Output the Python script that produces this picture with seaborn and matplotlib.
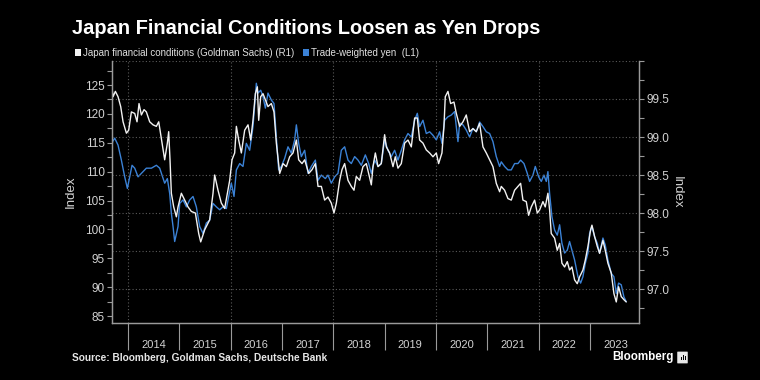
import matplotlib
matplotlib.use('Agg')
import matplotlib.pyplot as plt
from matplotlib import font_manager
from matplotlib.patches import Patch, FancyBboxPatch, Rectangle
from matplotlib.ticker import MultipleLocator, FixedLocator, FixedFormatter
import seaborn as sns

sns.set_theme(style='dark', rc={'axes.facecolor': 'black', 'figure.facecolor': 'black'})

names = {f.name for f in font_manager.fontManager.ttflist}
NARROW = 'Liberation Sans Narrow' if 'Liberation Sans Narrow' in names else 'Liberation Sans'
plt.rcParams['font.family'] = ['Liberation Sans', 'DejaVu Sans']

# ---- data (decimal years) ----
# Trade-weighted yen, left axis
yen_t = [2013.68, 2013.70, 2013.74, 2013.805, 2013.87, 2013.935, 2013.987, 2014.033, 2014.078, 2014.13,
         2014.195, 2014.26, 2014.357, 2014.455, 2014.552, 2014.617, 2014.65, 2014.714, 2014.766, 2014.812,
         2014.844, 2014.877, 2014.909, 2014.974, 2015.007, 2015.072, 2015.137, 2015.202, 2015.266, 2015.331,
         2015.396, 2015.461, 2015.526, 2015.591, 2015.656, 2015.721, 2015.786, 2015.851, 2015.916, 2015.948,
         2016.013, 2016.065, 2016.111, 2016.176, 2016.24, 2016.305, 2016.37, 2016.435, 2016.50, 2016.533,
         2016.585, 2016.63, 2016.676, 2016.727, 2016.792, 2016.844, 2016.89, 2016.935, 2016.987, 2017.052,
         2017.117, 2017.182, 2017.247, 2017.28, 2017.325, 2017.377, 2017.442, 2017.507, 2017.572, 2017.65,
         2017.702, 2017.767, 2017.845, 2017.896, 2017.961, 2018.026, 2018.091, 2018.156, 2018.221, 2018.286,
         2018.351, 2018.416, 2018.481, 2018.546, 2018.624, 2018.689, 2018.741, 2018.806, 2018.871, 2018.935,
         2019.00, 2019.065, 2019.13, 2019.195, 2019.26, 2019.325, 2019.39, 2019.455, 2019.52, 2019.585,
         2019.637, 2019.682, 2019.747, 2019.812, 2019.877, 2019.942, 2020.007, 2020.072, 2020.117, 2020.169,
         2020.234, 2020.299, 2020.364, 2020.429, 2020.462, 2020.527, 2020.591, 2020.656, 2020.721, 2020.786,
         2020.851, 2020.916, 2020.981, 2021.046, 2021.111, 2021.176, 2021.241, 2021.273, 2021.338, 2021.403,
         2021.468, 2021.533, 2021.598, 2021.65, 2021.715, 2021.78, 2021.825, 2021.89, 2021.936, 2022.001,
         2022.053, 2022.104, 2022.15, 2022.182, 2022.215, 2022.26, 2022.312, 2022.364, 2022.41, 2022.455,
         2022.507, 2022.559, 2022.604, 2022.65, 2022.702, 2022.767, 2022.819, 2022.864, 2022.91, 2022.962,
         2022.994, 2023.04, 2023.092, 2023.144, 2023.189, 2023.254, 2023.299, 2023.351, 2023.416, 2023.468,
         2023.514, 2023.559, 2023.611, 2023.663, 2023.708]
yen_idx = [114.0, 115.2, 115.8, 114.6, 112.0, 109.1, 107.1, 109.1, 111.1, 110.6,
           109.1, 109.7, 110.6, 110.6, 111.1, 110.6, 109.7, 108.0, 108.8, 106.2,
           102.8, 100.5, 97.9, 100.5, 104.5, 105.1, 103.9, 105.1, 105.7, 103.9,
           100.5, 99.3, 101.1, 101.6, 104.5, 103.9, 103.4, 103.9, 103.6, 105.1,
           108.0, 105.7, 110.3, 111.4, 110.9, 114.9, 113.7, 117.8, 125.3, 123.6,
           124.1, 123.0, 121.0, 123.6, 122.4, 121.8, 116.0, 110.3, 110.9, 112.3,
           114.3, 113.2, 115.5, 118.1, 114.9, 112.6, 113.7, 109.7, 110.9, 112.0,
           108.5, 109.4, 108.8, 109.4, 108.0, 109.1, 109.7, 113.7, 114.3, 112.0,
           111.4, 112.6, 112.0, 111.1, 112.9, 111.4, 109.7, 112.0, 110.9, 111.4,
           115.5, 113.7, 112.6, 113.7, 112.0, 113.7, 115.5, 116.6, 116.0, 118.9,
           120.1, 117.8, 118.9, 116.6, 116.9, 116.3, 115.5, 116.9, 114.9, 118.9,
           119.5, 119.8, 120.4, 115.2, 118.4, 118.1, 117.2, 116.0, 117.5, 116.9,
           118.6, 117.8, 116.9, 116.6, 115.2, 112.6, 110.9, 111.7, 110.9, 110.3,
           110.3, 111.4, 111.4, 112.0, 111.4, 109.7, 108.3, 109.4, 110.9, 109.1,
           108.3, 109.4, 108.3, 110.0, 106.2, 102.2, 99.9, 99.0, 100.8, 97.6,
           95.9, 96.4, 97.9, 96.4, 94.7, 91.8, 90.7, 91.8, 94.1, 95.9,
           99.3, 100.5, 98.7, 97.6, 95.9, 98.5, 97.3, 94.7, 92.4, 91.8,
           88.9, 90.7, 90.4, 88.3, 87.5]

# Japan financial conditions (Goldman Sachs), right axis
fci_t = [2013.68, 2013.708, 2013.753, 2013.805, 2013.857, 2013.903, 2013.968, 2014.013, 2014.065, 2014.13,
         2014.175, 2014.214, 2014.26, 2014.312, 2014.357, 2014.422, 2014.487, 2014.552, 2014.598, 2014.65,
         2014.714, 2014.766, 2014.792, 2014.818, 2014.844, 2014.89, 2014.942, 2014.974, 2015.039, 2015.104,
         2015.169, 2015.234, 2015.312, 2015.377, 2015.416, 2015.494, 2015.591, 2015.656, 2015.688, 2015.753,
         2015.818, 2015.883, 2015.935, 2015.981, 2016.026, 2016.078, 2016.111, 2016.156, 2016.208, 2016.273,
         2016.338, 2016.39, 2016.435, 2016.481, 2016.52, 2016.546, 2016.585, 2016.63, 2016.676, 2016.727,
         2016.792, 2016.844, 2016.89, 2016.955, 2017.02, 2017.085, 2017.15, 2017.215, 2017.28, 2017.325,
         2017.39, 2017.442, 2017.52, 2017.585, 2017.65, 2017.702, 2017.767, 2017.831, 2017.896, 2017.961,
         2018.013, 2018.059, 2018.124, 2018.169, 2018.221, 2018.286, 2018.351, 2018.403, 2018.448, 2018.513,
         2018.578, 2018.643, 2018.689, 2018.741, 2018.773, 2018.819, 2018.871, 2018.935, 2019.00, 2019.033,
         2019.098, 2019.163, 2019.208, 2019.26, 2019.325, 2019.39, 2019.455, 2019.52, 2019.585, 2019.637,
         2019.682, 2019.747, 2019.812, 2019.877, 2019.942, 2020.007, 2020.052, 2020.117, 2020.156, 2020.182,
         2020.234, 2020.286, 2020.351, 2020.397, 2020.462, 2020.527, 2020.591, 2020.656, 2020.721, 2020.786,
         2020.851, 2020.916, 2020.981, 2021.046, 2021.111, 2021.176, 2021.241, 2021.273, 2021.338, 2021.403,
         2021.468, 2021.533, 2021.598, 2021.65, 2021.695, 2021.76, 2021.806, 2021.858, 2021.923, 2021.975,
         2022.02, 2022.085, 2022.13, 2022.182, 2022.215, 2022.247, 2022.312, 2022.364, 2022.41, 2022.455,
         2022.507, 2022.559, 2022.604, 2022.65, 2022.702, 2022.754, 2022.799, 2022.864, 2022.91, 2022.962,
         2023.014, 2023.04, 2023.092, 2023.144, 2023.189, 2023.254, 2023.299, 2023.351, 2023.416, 2023.468,
         2023.514, 2023.559, 2023.611, 2023.663, 2023.708]
fci_idx = [99.68, 99.53, 99.60, 99.53, 99.40, 99.20, 99.05, 99.09, 99.33, 99.31,
           99.20, 99.44, 99.29, 99.36, 99.33, 99.20, 99.16, 99.14, 99.20, 98.98,
           98.70, 98.92, 99.07, 98.70, 98.26, 98.08, 97.95, 98.08, 98.26, 98.17,
           98.08, 98.02, 98.00, 97.73, 97.62, 97.78, 97.91, 98.26, 98.50, 98.30,
           98.13, 98.06, 98.26, 98.43, 98.70, 98.79, 99.14, 98.96, 98.79, 99.09,
           99.16, 98.96, 99.22, 99.57, 99.66, 99.22, 99.53, 99.57, 99.49, 99.40,
           99.44, 99.33, 98.92, 98.52, 98.65, 98.61, 98.74, 98.79, 98.96, 98.70,
           98.65, 98.70, 98.52, 98.57, 98.65, 98.35, 98.35, 98.17, 98.21, 98.13,
           98.00, 98.13, 98.43, 98.57, 98.65, 98.43, 98.35, 98.30, 98.48, 98.43,
           98.61, 98.65, 98.52, 98.37, 98.61, 98.79, 98.61, 98.65, 99.03, 98.87,
           98.79, 98.61, 98.74, 98.59, 98.65, 98.92, 98.96, 98.87, 99.25, 99.25,
           98.96, 98.92, 98.83, 98.79, 98.74, 98.79, 98.65, 98.79, 99.14, 99.53,
           99.60, 99.44, 99.46, 99.31, 99.14, 99.20, 99.29, 99.07, 99.11, 99.07,
           99.18, 98.87, 98.79, 98.70, 98.61, 98.39, 98.28, 98.35, 98.30, 98.19,
           98.17, 98.30, 98.35, 98.39, 98.17, 98.15, 97.97, 98.08, 98.17, 98.00,
           98.04, 98.15, 98.08, 98.26, 98.04, 97.73, 97.67, 97.51, 97.60, 97.34,
           97.29, 97.36, 97.25, 97.29, 97.12, 97.07, 97.16, 97.25, 97.38, 97.56,
           97.78, 97.84, 97.69, 97.56, 97.47, 97.64, 97.51, 97.34, 97.21, 96.94,
           96.83, 97.03, 96.90, 96.86, 96.83]

years = list(range(2014, 2024))
left_ticks = [85, 90, 95, 100, 105, 110, 115, 120, 125]
right_ticks = [97.0, 97.5, 98.0, 98.5, 99.0, 99.5, 100.0]

BLUE = '#3b82d6'
WHITE = '#f2f2f2'
GRID = '#5a5a5a'
SPINE = '#9a9a9a'
TXT = '#d2d2d2'

fig = plt.figure(figsize=(7.6, 3.8), dpi=100, facecolor='black')
ax = fig.add_axes([0.147, 0.150, 0.694, 0.6895])
ax2 = ax.twinx()

sns.lineplot(x=yen_t, y=yen_idx, ax=ax, color=BLUE, linewidth=1.0)
sns.lineplot(x=fci_t, y=fci_idx, ax=ax2, color=WHITE, linewidth=1.0)

ax.set_xlim(2013.682, 2023.96)
ax.set_ylim(83.79, 129.16)
ax2.set_ylim(96.553, 100.0)

# x axis: long ticks at year boundaries, labels centred in each year
ax.xaxis.set_major_locator(FixedLocator(years))
ax.xaxis.set_major_formatter(FixedFormatter([''] * len(years)))
ax.xaxis.set_minor_locator(FixedLocator([y + 0.5 for y in years]))
ax.xaxis.set_minor_formatter(FixedFormatter([str(y) for y in years]))
ax.tick_params(axis='x', which='major', length=19.5, width=0.8, color=SPINE, bottom=True)
ax.tick_params(axis='x', which='minor', length=0, pad=12, labelsize=8, labelcolor=TXT, bottom=True)
for yr in years[::2]:
    ax.axvline(yr, color=GRID, ls=(0, (1, 2)), lw=0.8, zorder=0)

ax.set_yticks(left_ticks)
ax.yaxis.set_minor_locator(MultipleLocator(2.5))
ax.tick_params(axis='y', which='both', length=3.5, width=0.8, color=SPINE, left=True,
               labelsize=8.5, labelcolor=TXT, pad=1.5)

ax2.set_yticks(right_ticks)
ax2.set_yticklabels([f'{v:.1f}' for v in right_ticks[:-1]] + [''])
ax2.yaxis.set_minor_locator(MultipleLocator(0.25))
ax2.tick_params(axis='y', which='both', length=3.5, width=0.8, color=SPINE, right=True,
                labelsize=8.5, labelcolor=TXT, pad=1.5)
ax2.grid(True, axis='y', which='major', color=GRID, ls=(0, (1, 2)), lw=0.8)

for a in (ax, ax2):
    a.spines['top'].set_visible(False)
    for s in ('left', 'right', 'bottom'):
        a.spines[s].set_color(SPINE)
        a.spines[s].set_linewidth(0.9)
    a.set_xlabel('')

ax.set_ylabel('Index', color=TXT, fontsize=9.5)
ax.yaxis.set_label_coords(-0.066, 0.5)
ax2.set_ylabel('Index', color=TXT, fontsize=9.5, rotation=270)
ax2.yaxis.set_label_coords(1.083, 0.5)

fig.text(72 / 760, 1 - 28 / 380, 'Japan Financial Conditions Loosen as Yen Drops',
         fontsize=14.4, fontweight='bold', color='white', va='center', family=[NARROW, 'DejaVu Sans'])

handles = [Patch(facecolor=WHITE, edgecolor='none'), Patch(facecolor=BLUE, edgecolor='none')]
fig.legend(handles, ['Japan financial conditions (Goldman Sachs) (R1)', 'Trade-weighted yen  (L1)'],
           loc='center left', bbox_to_anchor=(71 / 760, 1 - 52.5 / 380), ncol=2, frameon=False,
           handlelength=0.6, handleheight=0.75, handletextpad=0.25, columnspacing=0.9,
           prop={'family': [NARROW, 'DejaVu Sans'], 'size': 7.0}, labelcolor='#e0e0e0', borderaxespad=0)

fig.text(72 / 760, 1 - 358 / 380, 'Source: Bloomberg, Goldman Sachs, Deutsche Bank',
         fontsize=7.3, fontweight='bold', color='#e6e6e6', va='center')
fig.text(612 / 760, 1 - 357 / 380, 'Bloomberg', fontsize=8.4, fontweight='bold', color='white', va='center')
# small logo badge next to the wordmark
fig.patches.append(FancyBboxPatch((678 / 760, 1 - 363 / 380), 9 / 760, 11 / 380,
                                  boxstyle='round,pad=0.001', transform=fig.transFigure,
                                  facecolor='#e8e8e8', edgecolor='none'))
for bx, bh in ((680.5, 3), (682.5, 5), (684.5, 4)):
    fig.patches.append(Rectangle((bx / 760, 1 - 360 / 380), 1.2 / 760, bh / 380,
                                 transform=fig.transFigure, facecolor='black', edgecolor='none'))

fig.savefig('out.png', dpi=100, facecolor='black')
